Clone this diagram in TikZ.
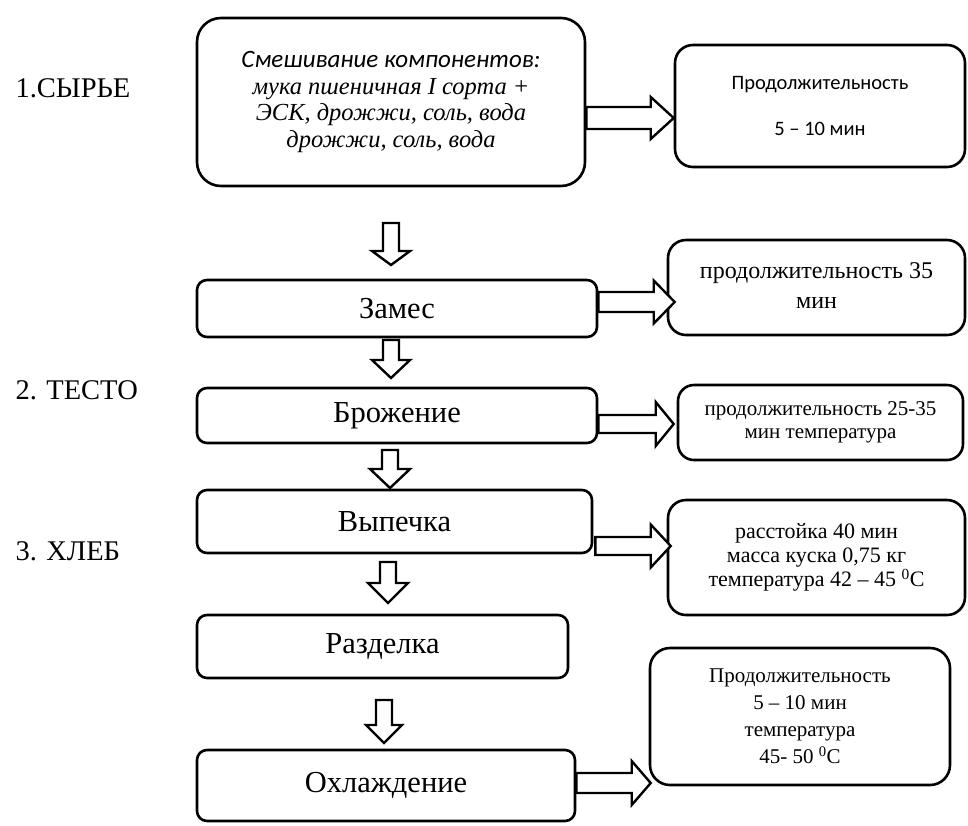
\documentclass[tikz,border=0pt]{standalone}
\usepackage{fontspec}
\setmainfont{Liberation Serif}
\newfontfamily\calib{Carlito}
\usetikzlibrary{calc}

\tikzset{
  box/.style={draw, line width=2.6pt, rounded corners=10pt, align=center, inner sep=2pt},
  stepfont/.style={font=\fontsize{30.5}{34}\selectfont},
  % horizontal block arrow: #1 half body, #2 half head, #3 head length
  harrow/.style n args={3}{draw, line width=2.4pt, fill=white, line join=miter,
    to path={($(\tikztostart)+(0,-#1)$) -- ($(\tikztotarget)+(-#3,-#1)$)
      -- ($(\tikztotarget)+(-#3,-#2)$) -- (\tikztotarget)
      -- ($(\tikztotarget)+(-#3,#2)$) -- ($(\tikztotarget)+(-#3,#1)$)
      -- ($(\tikztostart)+(0,#1)$) -- cycle}},
  % vertical block arrow pointing down
  varrow/.style n args={3}{draw, line width=2.4pt, fill=white, line join=miter,
    to path={($(\tikztostart)+(-#1,0)$) -- ($(\tikztotarget)+(-#1,-#3)$)
      -- ($(\tikztotarget)+(-#2,-#3)$) -- (\tikztotarget)
      -- ($(\tikztotarget)+(#2,-#3)$) -- ($(\tikztotarget)+(#1,-#3)$)
      -- ($(\tikztostart)+(#1,0)$) -- cycle}},
  stage/.style={anchor=west, font=\fontsize{28.5}{31}\selectfont},
}

\begin{document}
\begin{tikzpicture}[x=1pt,y=-1pt]
\useasboundingbox (0,0) rectangle (968,825);

% stage labels
\node[stage] (s1) at (12,88) {1.СЫРЬЕ};
\node[stage] (s2) at (12,390) {2. ТЕСТО};
\node[stage] (s3) at (12,551) {3. ХЛЕБ};

% main process boxes
\node[box, rounded corners=24pt, minimum width=388pt, minimum height=168pt,
      font=\itshape\fontsize{24.5}{26.5}\selectfont] (mix) at (391,102)
  {\raisebox{-5pt}{\begin{tabular}{@{}c@{}}
   {\calib\fontsize{25}{26.5}\selectfont Смешивание компонентов:}\\
   мука пшеничная I сорта +\\
   ЭСК, дрожжи, соль, вода\\
   дрожжи, соль, вода\end{tabular}}};
\node[box, stepfont, minimum width=400pt, minimum height=57pt] (zames) at (397,308.5) {Замес};
\node[box, stepfont, minimum width=400pt, minimum height=55pt] (brozh) at (397,415.5) {Брожение};
\node[box, stepfont, minimum width=395pt, minimum height=63pt] (vyp) at (394.5,521.5) {Выпечка};
\node[box, stepfont, minimum width=371pt, minimum height=63pt] (razd) at (382.5,646.5) {Разделка};
\node[box, stepfont, minimum width=378pt, minimum height=71pt] (okhl) at (386,785.5) {Охлаждение};

% parameter boxes
\node[box, rounded corners=18pt, minimum width=290pt, minimum height=122pt,
      font=\calib\fontsize{20.5}{24}\selectfont] (p1) at (820,106)
  {Продолжительность\\[22pt]5 – 10 мин};
\node[box, rounded corners=18pt, minimum width=297pt, minimum height=95pt,
      font=\fontsize{24}{30}\selectfont] (p2) at (816.5,287.5)
  {\raisebox{7pt}{\begin{tabular}{@{}c@{}}продолжительность 35\\мин\end{tabular}}};
\node[box, rounded corners=16pt, minimum width=285pt, minimum height=75pt,
      font=\fontsize{21}{23}\selectfont] (p3) at (820.5,422.5)
  {продолжительность 25-35\\мин температура};
\node[box, rounded corners=18pt, minimum width=297pt, minimum height=115pt,
      font=\fontsize{22}{24}\selectfont] (p4) at (816.5,557.5)
  {расстойка 40 мин\\масса куска 0,75 кг\\температура 42 – 45 \textsuperscript{0}С};
\node[box, rounded corners=20pt, minimum width=300pt, minimum height=137pt,
      font=\fontsize{21}{27}\selectfont] (p5) at (800,716.5)
  {Продолжительность\\5 – 10 мин\\температура\\45- 50 \textsuperscript{0}C};

% horizontal arrows to the parameter boxes
\draw[harrow={11}{21}{23}] (mix.east |- 0,118) to (p1.west |- 0,118);
\draw[harrow={10}{21.5}{21}] (zames.east |- 0,302) to ($(p2.west |- 0,302)+(8,0)$);
\draw[harrow={9}{22}{18}] (brozh.east |- 0,424) to ($(p3.west |- 0,424)+(-3,0)$);
\draw[harrow={9}{21.5}{20}] ($(vyp.east |- 0,546)+(2,0)$) to ($(p4.west |- 0,546)+(4,0)$);
\draw[harrow={10}{22}{19}] (okhl.east |- 0,783) to ($(p5.west |- 0,783)+(2,0)$);

% downward arrows between the process steps
\coordinate (d1a) at (391,223); \coordinate (d1b) at (391,265);
\coordinate (d2a) at (391,340); \coordinate (d2b) at (391,378);
\coordinate (d3a) at (390,450); \coordinate (d3b) at (390,488);
\coordinate (d4a) at (388,562); \coordinate (d4b) at (388,603);
\coordinate (d5a) at (384,700); \coordinate (d5b) at (384,743);
\draw[varrow={8}{19}{14}] (d1a) to (d1b);
\draw[varrow={8}{19}{18}] (d2a) to (d2b);
\draw[varrow={8}{20}{19}] (d3a) to (d3b);
\draw[varrow={8}{20}{20}] (d4a) to (d4b);
\draw[varrow={8}{18}{18}] (d5a) to (d5b);
\end{tikzpicture}
\end{document}
